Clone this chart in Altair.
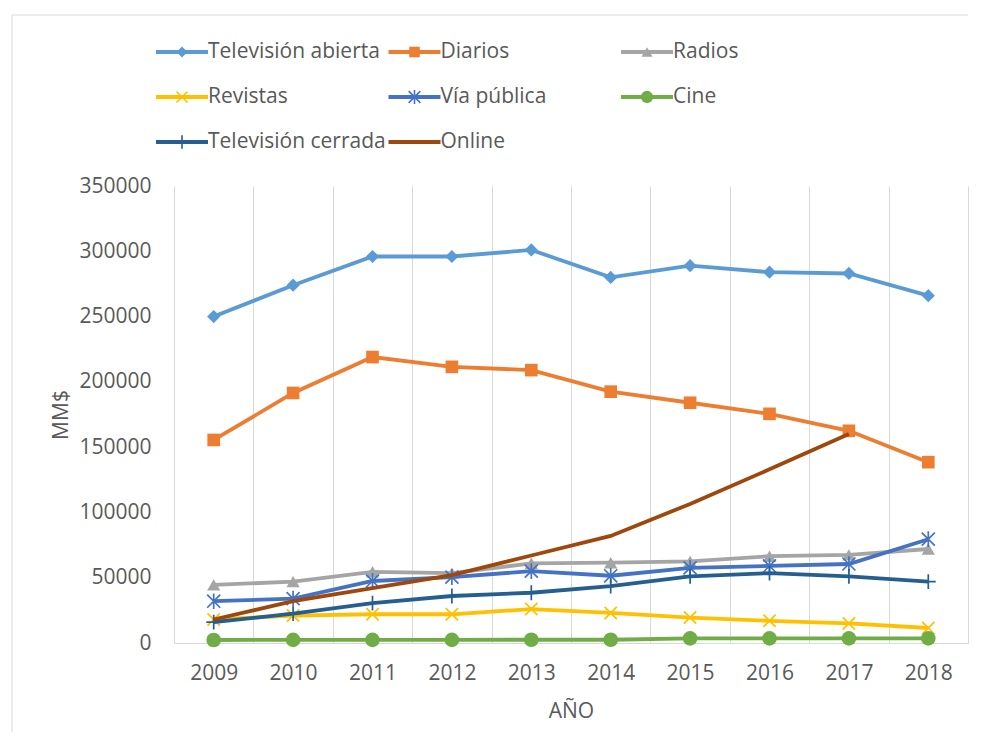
import altair as alt
import pandas as pd

# ---------------- data ----------------
years = [2009, 2010, 2011, 2012, 2013, 2014, 2015, 2016, 2017, 2018]
series_names = ["Televisión abierta", "Diarios", "Radios", "Revistas", "Vía pública",
                "Cine", "Televisión cerrada", "Online"]
tv_abierta = [250000, 274000, 296000, 296000, 301000, 280000, 289000, 284000, 283000, 266000]
diarios = [155500, 191500, 219000, 211500, 209000, 192500, 184000, 175500, 162500, 138500]
radios = [44500, 47000, 54500, 53500, 61000, 61500, 62500, 66500, 67500, 72000]
revistas = [18000, 21000, 22000, 22000, 26000, 23000, 19500, 17000, 15000, 11500]
via_publica = [32000, 34000, 47500, 50500, 55000, 51500, 57500, 59000, 60500, 79500]
cine = [2300, 2400, 2400, 2400, 2500, 2500, 3500, 3500, 3500, 3500]
tv_cerrada = [16000, 22500, 30500, 36000, 38500, 43500, 51000, 53500, 51000, 47000]
online = [18000, 32000, 42000, 52000, 67000, 82000, 106500, 133000, 160000, None]
y_ticks = [0, 50000, 100000, 150000, 200000, 250000, 300000, 350000]

# ---------------- styles ----------------
colors = ["#5B9BD5", "#ED7D31", "#A5A5A5", "#FFC000", "#4472C4", "#70AD47", "#255E91", "#9E480E"]
X_PATH = "M-1,-1L1,1M-1,1L1,-1"
STAR_PATH = "M-1,-1L1,1M-1,1L1,-1M0,-1.2L0,1.2"
PLUS_PATH = "M0,-1L0,1M-1,0L1,0"
markers = [
    ("diamond", True, 175),
    ("square", True, 160),
    ("triangle-up", True, 175),
    (X_PATH, False, 150),
    (STAR_PATH, False, 170),
    ("circle", True, 215),
    (PLUS_PATH, False, 220),
    (None, None, None),
]
FONT = "Open Sans"
TXT = "#595959"
GRID = "#D9D9D9"
FS = 21

values = [tv_abierta, diarios, radios, revistas, via_publica, cine, tv_cerrada, online]
rows = []
for name, vals in zip(series_names, values):
    for yr, v in zip(years, vals):
        if v is not None:
            rows.append({"series": name, "year": yr, "value": v})
df = pd.DataFrame(rows)

W, H = 794, 457
LW = 3.8

x_enc = alt.X("year:O", scale=alt.Scale(type="band", paddingInner=0, paddingOuter=0),
              axis=alt.Axis(title="AÑO", labelAngle=0, tickBand="extent", grid=True,
                            gridColor=GRID, gridWidth=1, ticks=False, domainColor=GRID,
                            labelPadding=19, titlePadding=17, labelFontSize=FS,
                            titleFontSize=FS, titleFontWeight="normal", labelColor=TXT,
                            titleColor=TXT, labelFont=FONT, titleFont=FONT))
y_enc = alt.Y("value:Q", scale=alt.Scale(domain=[0, 350000], nice=False),
              axis=alt.Axis(title="MM$", values=y_ticks, format="d", grid=False,
                            domain=False, ticks=False, labelPadding=23, titlePadding=7,
                            labelFontSize=FS, titleFontSize=FS, titleFontWeight="normal",
                            labelColor=TXT, titleColor=TXT, labelFont=FONT, titleFont=FONT))

layers = []
for i, name in enumerate(series_names):
    base = alt.Chart(df).transform_filter(alt.datum.series == name)
    layers.append(base.mark_line(color=colors[i], strokeWidth=LW).encode(x=x_enc, y=y_enc))
    shape, filled, size = markers[i]
    if shape is not None:
        if filled:
            m = base.mark_point(shape=shape, filled=True, size=size, color=colors[i], opacity=1)
        else:
            m = base.mark_point(shape=shape, filled=False, size=size, color=colors[i],
                                strokeWidth=1.7, opacity=1)
        layers.append(m.encode(x=x_enc, y=y_enc))

main = alt.layer(*layers).properties(width=W, height=H)

# ---------------- legend ----------------
leg_rows = []
for i, name in enumerate(series_names):
    leg_rows.append({"series": name, "col": i % 3, "row": i // 3})
leg_df = pd.DataFrame(leg_rows)

lx = alt.X("col:Q", scale=alt.Scale(domain=[0, 2], range=[-18, 447]), axis=None)
lx2 = alt.X2("col:Q")
ly = alt.Y("row:Q", scale=alt.Scale(domain=[0, 2], range=[0, 90]), axis=None)

leg_layers = []
# faint chart-area frame (decoration)
frame_src = alt.Chart(leg_df.head(1))
leg_layers.append(frame_src.mark_rule(color="#D9D9D9", strokeWidth=1)
                  .encode(x=alt.value(-162), x2=alt.value(794), y=alt.value(-37)))
leg_layers.append(frame_src.mark_rule(color="#D9D9D9", strokeWidth=1)
                  .encode(x=alt.value(-162), y=alt.value(-37), y2=alt.value(680)))
for i, name in enumerate(series_names):
    base = alt.Chart(leg_df).transform_filter(alt.datum.series == name)
    leg_layers.append(base.mark_rule(color=colors[i], strokeWidth=LW, x2Offset=52)
                      .encode(x=lx, x2=lx2, y=ly))
    shape, filled, size = markers[i]
    if shape is not None:
        if filled:
            m = base.mark_point(shape=shape, filled=True, size=size * 0.7, color=colors[i],
                                opacity=1, xOffset=26)
        else:
            m = base.mark_point(shape=shape, filled=False, size=size * 0.8, color=colors[i],
                                strokeWidth=1.6, opacity=1, xOffset=26)
        leg_layers.append(m.encode(x=lx, y=ly))
leg_layers.append(alt.Chart(leg_df).mark_text(align="left", baseline="middle", dx=52,
                                               font=FONT, fontSize=FS, color=TXT)
                  .encode(x=lx, y=ly, text="series:N"))
legend = alt.layer(*leg_layers).properties(width=W, height=90)

chart = alt.vconcat(legend, main, spacing=44, bounds="flush").properties(
    padding={"left": 3, "top": 6, "right": 5, "bottom": 5}
).configure(background="white", view=alt.ViewConfig(stroke="transparent", strokeWidth=0))

chart.save("out.html", embed_options={"renderer": "svg", "actions": False})
